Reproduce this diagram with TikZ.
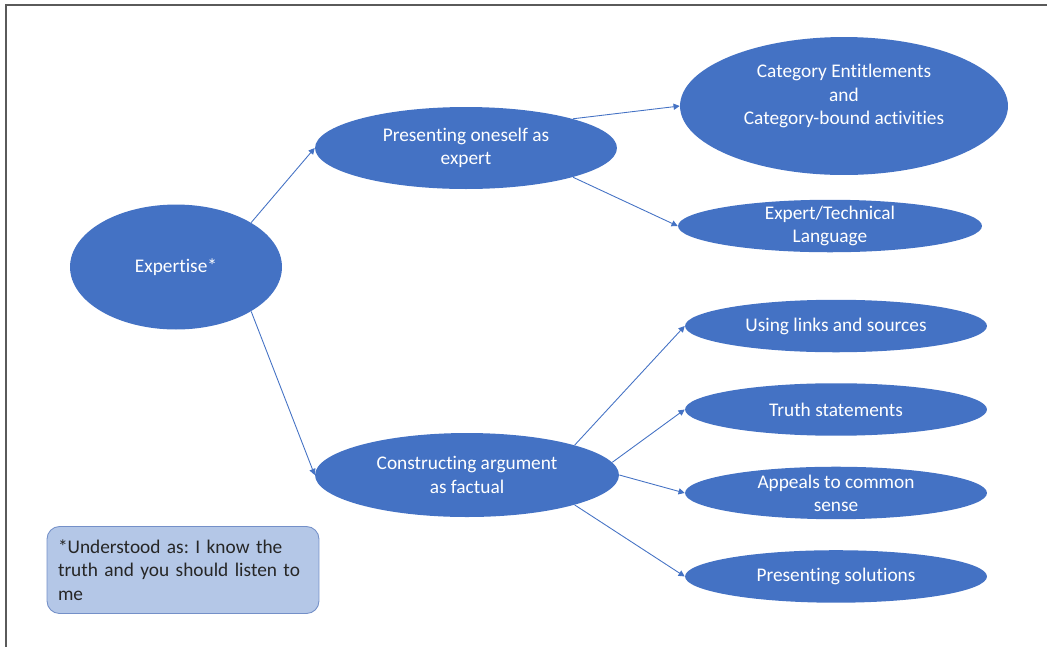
\documentclass[tikz,border=0pt]{standalone}
\usepackage{fontspec}
\setmainfont{Carlito}[Ligatures = NoCommon]
\usepackage{tikz}
\usetikzlibrary{shapes.geometric, arrows.meta, positioning}

\definecolor{blobblue}{HTML}{4472C4}
\definecolor{notefill}{HTML}{B4C7E7}
\definecolor{noteedge}{HTML}{7490C8}
\definecolor{framegray}{HTML}{5A5A5A}

\begin{document}
\begin{tikzpicture} [x = 0.02cm, y = -0.02cm, node distance = 1.67cm, on grid,
	font = \fontsize{11}{13.2}\selectfont\frenchspacing,
	blob/.style = {ellipse, fill = blobblue, text = white, align = center, inner xsep = 0pt, inner ysep = -6pt},
	leaf/.style = {blob, minimum width = 6.04cm, minimum height = 1.05cm},
	note/.style = {rectangle, rounded corners = 0.25cm, fill = notefill, draw = noteedge, line width = 0.5pt,
		text = black!85, align = left, text width = 5cm, inner xsep = 0.22cm, minimum height = 1.74cm}]
		\useasboundingbox (0,0) rectangle (1047,647);
		% Frame : only top and left edge are shown
		\draw [framegray, line width = 0.7pt] (1047,5) -- (6,5) -- (6,647);

		% Root Node
		\node (exp) [blob, minimum width = 4.24cm, minimum height = 2.5cm] at (176,267) {Expertise*};

		% Middle Nodes
		\node (pres) [blob, minimum width = 6.04cm, minimum height = 1.64cm] at (466,148) {Presenting oneself as\\ expert};
		\node (cons) [blob, minimum width = 6.08cm, minimum height = 1.68cm] at (467,475) {Constructing argument\\ as factual};

		% Upper Leaves
		\node (cat) [blob, minimum width = 6.56cm, minimum height = 2.76cm] at (844,106)
		{Category Entitlements\\ and\\ Category-bound activities\\ \mbox{}};
		\node (tech) [leaf, minimum width = 6.08cm] at (830,226) {Expert/Technical\\ Language};

		% Lower Leaves
		\node (links) [leaf] at (836,326) {Using links and sources};
		\node (truth) [leaf, below = of links] {Truth statements};
		\node (appeal) [leaf, below = of truth] {Appeals to common\\ sense};
		\node (sol) [leaf, below = of appeal] {Presenting solutions};

		% Footnote
		\node (fn) [note] at (183,570) {*Understood as: I know the\\ truth and you should listen to\\ me};

		% Draw Arrows/Connections
		\path [-{Triangle[length = 3.5pt, width = 3.5pt]}, blobblue, line width = 0.5pt]
		(exp.north east) edge (pres.west)
		(exp.south east) edge (cons.west)

		(pres.north east) edge (cat.west)
		(pres.south east) edge (tech.west)

		(cons.north east) edge (links.west)
		(cons.5) edge (truth.west)
		(cons.east) edge (appeal.west)
		(cons.south east) edge (sol.west);
	\end{tikzpicture}
\end{document}
